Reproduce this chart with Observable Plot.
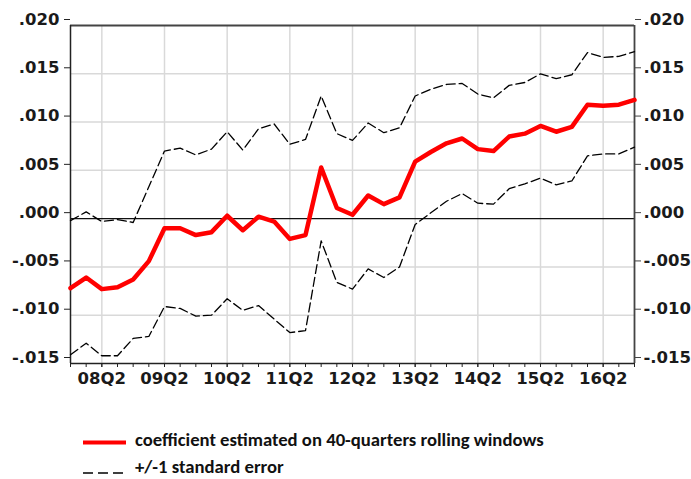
<!DOCTYPE html>
<html><head><meta charset="utf-8">
<script src="https://cdn.jsdelivr.net/npm/d3@7"></script>
<script src="https://cdn.jsdelivr.net/npm/@observablehq/plot@0.6"></script>
<style>
body{margin:0;background:#fff;font-family:Carlito,Calibri,Lato,sans-serif;}
#chart svg{display:block}
#legend{display:block}
</style></head><body><div id="chart"></div><svg id="legend" width="691" height="79"></svg>
<script>
const quarters = ["2007Q4","2008Q1","2008Q2","2008Q3","2008Q4","2009Q1","2009Q2","2009Q3","2009Q4",
  "2010Q1","2010Q2","2010Q3","2010Q4","2011Q1","2011Q2","2011Q3","2011Q4","2012Q1","2012Q2","2012Q3",
  "2012Q4","2013Q1","2013Q2","2013Q3","2013Q4","2014Q1","2014Q2","2014Q3","2014Q4","2015Q1","2015Q2",
  "2015Q3","2015Q4","2016Q1","2016Q2","2016Q3","2016Q4"];
const coef = [-0.0072,-0.0061,-0.0073,-0.0071,-0.0063,-0.0044,-0.0010,-0.0010,-0.0017,-0.0014,0.0003,
  -0.0012,0.0002,-0.0003,-0.0021,-0.0017,0.0053,0.0011,0.0004,0.0024,0.0015,0.0022,0.0059,0.0069,0.0078,
  0.0083,0.0072,0.0070,0.0085,0.0088,0.0096,0.0090,0.0095,0.0118,0.0117,0.0118,0.0123];
const upper = [-0.0002,0.0007,-0.0003,-0.0001,-0.0004,0.0033,0.0070,0.0073,0.0066,0.0072,0.0090,0.0071,
  0.0093,0.0098,0.0077,0.0082,0.0127,0.0088,0.0081,0.0099,0.0089,0.0094,0.0127,0.0134,0.0139,0.0140,
  0.0129,0.0125,0.0138,0.0141,0.0150,0.0145,0.0149,0.0172,0.0167,0.0168,0.0173];
const lower = [-0.0141,-0.0129,-0.0142,-0.0142,-0.0124,-0.0122,-0.0091,-0.0093,-0.0101,-0.0100,-0.0083,
  -0.0095,-0.0090,-0.0104,-0.0118,-0.0116,-0.0023,-0.0066,-0.0073,-0.0052,-0.0061,-0.0050,-0.0006,0.0006,
  0.0018,0.0026,0.0016,0.0015,0.0031,0.0036,0.0042,0.0035,0.0039,0.0065,0.0067,0.0067,0.0074];
const yTicks = [-0.015,-0.010,-0.005,0.000,0.005,0.010,0.015,0.020];
const yTickLabels = ["-.015","-.010","-.005",".000",".005",".010",".015",".020"];
const xTickQuarters = ["2008Q2","2009Q2","2010Q2","2011Q2","2012Q2","2013Q2","2014Q2","2015Q2","2016Q2"];
const xTickLabels = ["08Q2","09Q2","10Q2","11Q2","12Q2","13Q2","14Q2","15Q2","16Q2"];
const legendLabels = ["coefficient estimated on 40-quarters rolling windows","+/-1 standard error"];

const toX = q => +q.slice(0,4) + (+q.slice(5)-1)/4;
const rows = quarters.map((q,i)=>({t:toX(q), coef:coef[i], upper:upper[i], lower:lower[i]}));
const qx = quarters.map(toX);
const xTicks = xTickQuarters.map(toX);
const xLab = new Map(xTicks.map((t,i)=>[t,xTickLabels[i]]));
const yLab = new Map(yTicks.map((t,i)=>[t,yTickLabels[i]]));
const xDom = [qx[0], qx[qx.length-1]];
const yDom = [yTicks[0], yTicks[yTicks.length-1]];
const TICKFONT = "'DejaVu Sans', sans-serif";
const LEGFONT = "Carlito, Calibri, Lato, sans-serif";
const axisText = {fontSize:16.5, fontWeight:"bold", fill:"#1a1a1a", label:null};

const chart = Plot.plot({
  width:691, height:400,
  marginLeft:70, marginRight:57, marginTop:25, marginBottom:37,
  style:{fontFamily:TICKFONT, background:"#fff"},
  x:{domain:xDom, label:null},
  y:{domain:yDom, label:null},
  marks:[
    Plot.gridX(xTicks,{stroke:"#d9d9d9", strokeOpacity:1, strokeWidth:1.5}),
    Plot.gridY(yTicks.filter(d=>d!==0 && d!==yDom[1] && d!==yDom[0]),{stroke:"#d9d9d9", strokeOpacity:1, strokeWidth:1.5}),
    Plot.ruleY([0],{stroke:"#111", strokeWidth:1.3}),
    Plot.ruleY([yDom[1]],{stroke:"#444", strokeWidth:1.8}),
    Plot.ruleY([yDom[0]],{stroke:"#222", strokeWidth:1.5}),
    Plot.ruleX([xDom[0]],{stroke:"#222", strokeWidth:1.5}),
    Plot.ruleX([xDom[1]],{stroke:"#444", strokeWidth:1.8}),
    Plot.axisX(qx,{tickSize:4, tickFormat:()=>"", stroke:"#222", label:null}),
    Plot.axisX(xTicks,{tickSize:4, tickPadding:5, tickFormat:d=>xLab.get(d), stroke:"#222", ...axisText}),
    Plot.axisY(yTicks,{anchor:"left", tickSize:6, tickPadding:5, tickFormat:d=>yLab.get(d), dy:-6, stroke:"#222", ...axisText}),
    Plot.axisY(yTicks,{anchor:"right", tickSize:6, tickPadding:3, tickFormat:d=>yLab.get(d), dy:-6, stroke:"#444", ...axisText}),
    Plot.line(rows,{x:"t", y:"upper", stroke:"#000", strokeWidth:1.3, strokeDasharray:"9,4"}),
    Plot.line(rows,{x:"t", y:"lower", stroke:"#000", strokeWidth:1.3, strokeDasharray:"9,4"}),
    Plot.line(rows,{x:"t", y:"coef", stroke:"#ff0000", strokeWidth:4.5})
  ]
});
document.getElementById("chart").appendChild(chart);

const lg = d3.select("#legend");
lg.append("line").attr("x1",83).attr("x2",126).attr("y1",42.5).attr("y2",42.5)
  .attr("stroke","#ff0000").attr("stroke-width",4);
lg.append("line").attr("x1",83).attr("x2",126).attr("y1",73).attr("y2",73)
  .attr("stroke","#000").attr("stroke-width",1.5).attr("stroke-dasharray","10,5");
lg.selectAll("text.l").data(legendLabels).join("text")
  .attr("x",135).attr("y",(d,i)=>46+i*27)
  .attr("font-family",LEGFONT).attr("font-weight","bold").attr("font-size",18.7).attr("fill","#111")
  .text(d=>d);
</script>
</body></html>
